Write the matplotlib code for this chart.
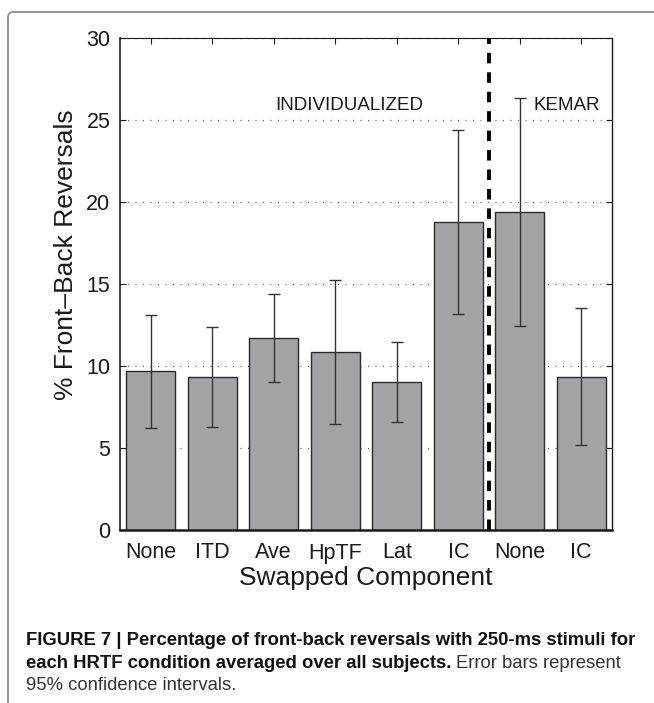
import matplotlib
matplotlib.use("Agg")
import matplotlib.pyplot as plt
from matplotlib.patches import FancyBboxPatch

# data
labels = ["None", "ITD", "Ave", "HpTF", "Lat", "IC", "None", "IC"]
means = [9.7, 9.33, 11.69, 10.85, 9.02, 18.8, 19.41, 9.35]
err_hi = [13.13, 12.4, 14.41, 15.26, 11.46, 24.4, 26.36, 13.51]
err_lo = [6.24, 6.26, 9.0, 6.44, 6.59, 13.19, 12.42, 5.18]
yticks = [0, 5, 10, 15, 20, 25, 30]
divider = 6.5
group_names = ["INDIVIDUALIZED", "KEMAR"]
group_x = [4.22, 7.76]

plt.rcParams["font.family"] = ["Liberation Sans", "DejaVu Sans"]

W, H = 654, 703
fig = plt.figure(figsize=(W / 100, H / 100), dpi=100)
ax = fig.add_axes([120 / W, 1 - 530 / H, 492 / W, 492 / H])

x = list(range(1, len(labels) + 1))
lower = [m - lo for m, lo in zip(means, err_lo)]
upper = [hi - m for m, hi in zip(means, err_hi)]

ax.bar(x, means, width=0.8, color="#a2a3a7", edgecolor="#2a2a2a",
       linewidth=1.0, zorder=2)
ax.errorbar(x, means, yerr=[lower, upper], fmt="none", ecolor="#333333",
            elinewidth=1.0, capsize=4.5, capthick=1.0, zorder=3)

ax.axvline(divider, color="black", linewidth=2.8, dashes=(2.7, 2.3), zorder=4)

for name, gx in zip(group_names, group_x):
    ax.text(gx, 25.6, name, ha="center", va="baseline", fontsize=13.5,
            color="#1a1a1a", zorder=5)

ax.set_xlim(0.5, len(labels) + 0.5)
ax.set_ylim(0, 30)
ax.set_xticks(x)
ax.set_xticklabels(labels)
ax.set_yticks(yticks)
ax.yaxis.grid(True, linestyle=(0, (0.8, 5.2)), linewidth=0.9, color="#555555")
ax.set_axisbelow(True)
ax.tick_params(direction="in", length=4, width=0.8, top=True, right=True,
               labelsize=15.5, colors="#1a1a1a", pad=7)
ax.tick_params(axis="x", pad=9)
for side, lw in [("left", 1.2), ("bottom", 1.8), ("right", 1.0), ("top", 0.8)]:
    ax.spines[side].set_linewidth(lw)
    ax.spines[side].set_color("#1a1a1a")

ax.set_xlabel("Swapped Component", fontsize=19, color="#1a1a1a", labelpad=2)
fig.text(66 / W, 1 - 255 / H, "% Front\u2013Back Reversals", rotation=90,
         ha="center", va="center", fontsize=19, color="#1a1a1a")

# outer frame (runs off the right and bottom edges)
frame = FancyBboxPatch((8 / W, -0.05), 1.2, 1 - 12 / H + 0.05,
                       boxstyle="round,pad=0,rounding_size=0.008",
                       transform=fig.transFigure, fill=False,
                       edgecolor="#8a8a8a", linewidth=1.3, clip_on=False)
fig.patches.append(frame)

# caption
cap_font = ["Liberation Sans Narrow", "Liberation Sans", "DejaVu Sans"]
cap_size = 13.3
fig.text(26 / W, 1 - 645 / H,
         "FIGURE 7 | Percentage of front-back reversals with 250-ms stimuli for",
         family=cap_font, fontsize=cap_size, weight="bold", color="#111111",
         va="baseline")
bold2 = fig.text(26 / W, 1 - 668 / H,
                 "each HRTF condition averaged over all subjects.",
                 family=cap_font, fontsize=cap_size, weight="bold",
                 color="#111111", va="baseline")
fig.canvas.draw()
bb = bold2.get_window_extent()
fig.text((bb.x1 + 5) / W, 1 - 668 / H, "Error bars represent",
         family=cap_font, fontsize=cap_size, color="#333333", va="baseline")
fig.text(26 / W, 1 - 690 / H, "95% confidence intervals.",
         family=cap_font, fontsize=cap_size, color="#333333", va="baseline")

fig.savefig("out.png", dpi=100)
